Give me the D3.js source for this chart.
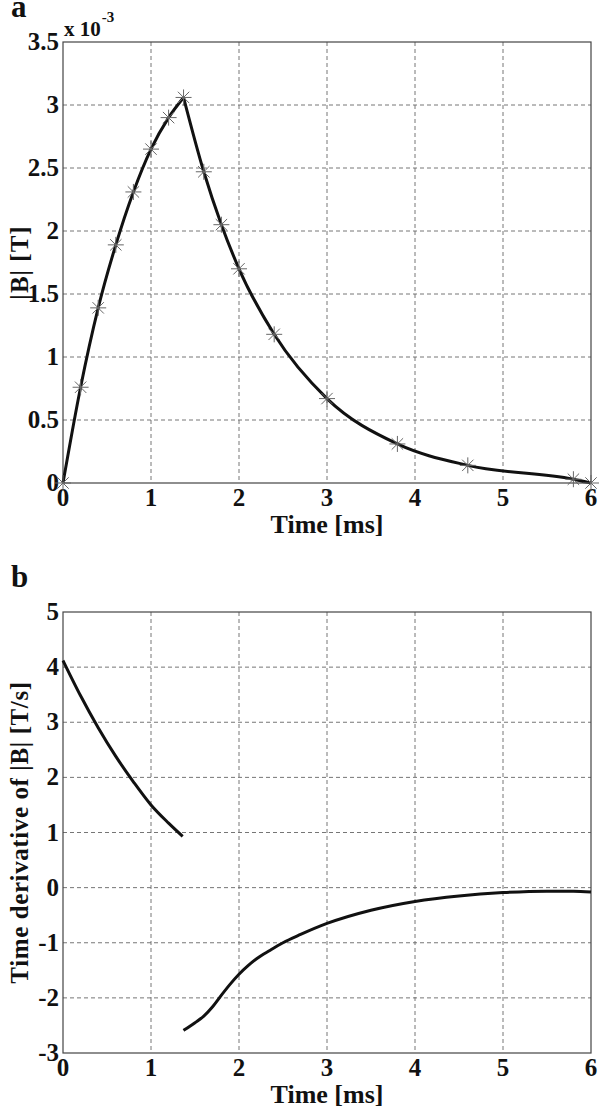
<!DOCTYPE html>
<html>
<head>
<meta charset="utf-8">
<script src="https://cdn.jsdelivr.net/npm/d3@7"></script>
<style>
  html, body { margin: 0; padding: 0; background: #fff; }
  svg { display: block; }
  text { font-family: "Liberation Serif", "DejaVu Serif", serif; font-weight: bold; fill: #111; }
</style>
</head>
<body>
<svg id="chart" width="600" height="1108"></svg>
<script>
// ---------- DATA ----------
// Panel a: |B| (x 10^-3 T) vs time (ms)
const timeA = [0, 0.2, 0.4, 0.6, 0.8, 1.0, 1.2, 1.37, 1.6, 1.8, 2.0, 2.4, 3.0, 3.8, 4.6, 5.8, 6.0];
const bValues = [0, 0.76, 1.39, 1.89, 2.31, 2.65, 2.90, 3.06, 2.47, 2.05, 1.70, 1.18, 0.67, 0.31, 0.14, 0.03, 0.0];
const peakIndex = 7;

// Panel b: time derivative of |B| (T/s) vs time (ms), two branches
const timeB1 = [0, 0.2, 0.4, 0.6, 0.8, 1.0, 1.2, 1.36];
const dbValues1 = [4.12, 3.48, 2.90, 2.38, 1.92, 1.50, 1.17, 0.93];
const timeB2 = [1.37, 1.5, 1.6, 1.7, 1.8, 1.9, 2.0, 2.1, 2.2, 2.35, 2.5, 2.7, 3.0, 3.5, 4.0, 4.5, 5.0, 5.5, 5.8, 6.0];
const dbValues2 = [-2.59, -2.45, -2.33, -2.16, -1.95, -1.75, -1.57, -1.42, -1.29, -1.14, -1.0, -0.85, -0.65, -0.41, -0.25, -0.15, -0.09, -0.065, -0.065, -0.08];

// Tick labels
const xTicks = [0, 1, 2, 3, 4, 5, 6];
const yTicksA = [0, 0.5, 1, 1.5, 2, 2.5, 3, 3.5];
const yTicksB = [-3, -2, -1, 0, 1, 2, 3, 4, 5];

// ---------- DRAW ----------
const svg = d3.select("#chart");
svg.append("rect").attr("width", 600).attr("height", 1108).attr("fill", "#fff");

const left = 63, right = 591;
const FONT = 25;

function panel(cfg) {
  const x = d3.scaleLinear().domain([0, 6]).range([left, right]);
  const y = d3.scaleLinear().domain(cfg.yDomain).range([cfg.bottom, cfg.top]);
  const g = svg.append("g");

  // grid
  g.selectAll(".vg").data(xTicks.slice(1, -1)).enter().append("line")
    .attr("x1", d => x(d)).attr("x2", d => x(d))
    .attr("y1", cfg.top).attr("y2", cfg.bottom)
    .attr("stroke", "#666").attr("stroke-width", 0.9).attr("stroke-dasharray", "4,3");
  g.selectAll(".hg").data(cfg.yTicks.slice(1, -1)).enter().append("line")
    .attr("x1", left).attr("x2", right)
    .attr("y1", d => y(d)).attr("y2", d => y(d))
    .attr("stroke", "#666").attr("stroke-width", 0.9).attr("stroke-dasharray", "4,3");

  // box
  g.append("rect").attr("x", left).attr("y", cfg.top)
    .attr("width", right - left).attr("height", cfg.bottom - cfg.top)
    .attr("fill", "none").attr("stroke", "#444").attr("stroke-width", 1.2);

  // x tick labels
  g.selectAll(".xt").data(xTicks).enter().append("text")
    .attr("x", d => x(d)).attr("y", cfg.bottom + 23)
    .attr("text-anchor", "middle").attr("font-size", FONT)
    .text(d => d);
  // y tick labels
  g.selectAll(".yt").data(cfg.yTicks).enter().append("text")
    .attr("x", left - 4).attr("y", d => y(d) + 8)
    .attr("text-anchor", "end").attr("font-size", FONT)
    .text(d => d);

  // x label
  g.append("text").attr("x", (left + right) / 2).attr("y", cfg.bottom + 50)
    .attr("text-anchor", "middle").attr("font-size", FONT + 1).text("Time [ms]");
  // y label
  g.append("text")
    .attr("transform", `translate(28,${(cfg.top + cfg.bottom) / 2}) rotate(-90)`)
    .attr("text-anchor", "middle").attr("font-size", FONT)
    .attr("letter-spacing", cfg.ls).text(cfg.yLabel);
  // panel letter
  g.append("text").attr("x", 11).attr("y", cfg.top - 25)
    .attr("font-size", 31).text(cfg.letter);

  return { x, y, g };
}

// Panel a
const pa = panel({ top: 42, bottom: 483, yDomain: [0, 3.5], yTicks: yTicksA, yLabel: "|B| [T]", letter: "a", ls: 1 });
const exp = pa.g.append("text").attr("x", 64).attr("y", 36).attr("font-size", 21);
exp.append("tspan").text("x 10");
exp.append("tspan").attr("font-size", 15).attr("dy", -14).attr("dx", 1).text("-3");

const ptsA = timeA.map((t, i) => [t, bValues[i]]);
const lineA = d3.line().x(d => pa.x(d[0])).y(d => pa.y(d[1])).curve(d3.curveMonotoneX);
pa.g.append("path").attr("d", lineA(ptsA.slice(0, peakIndex + 1)))
  .attr("fill", "none").attr("stroke", "#111").attr("stroke-width", 3).attr("stroke-linejoin", "round");
pa.g.append("path").attr("d", lineA(ptsA.slice(peakIndex)))
  .attr("fill", "none").attr("stroke", "#111").attr("stroke-width", 3).attr("stroke-linejoin", "round");

// asterisk markers
const r = 8, rd = 5.7;
const star = `M0,${-r}L0,${r}M${-r},0L${r},0M${-rd},${-rd}L${rd},${rd}M${-rd},${rd}L${rd},${-rd}`;
pa.g.selectAll(".mk").data(ptsA).enter().append("path")
  .attr("transform", d => `translate(${pa.x(d[0])},${pa.y(d[1])})`)
  .attr("d", star).attr("fill", "none").attr("stroke", "#666").attr("stroke-width", 1);

// Panel b
const pb = panel({ top: 612, bottom: 1053, yDomain: [-3, 5], yTicks: yTicksB, yLabel: "Time derivative of |B| [T/s]", letter: "b", ls: 0.6 });
const lineB = d3.line().x(d => pb.x(d[0])).y(d => pb.y(d[1])).curve(d3.curveMonotoneX);
pb.g.append("path").attr("d", lineB(timeB1.map((t, i) => [t, dbValues1[i]])))
  .attr("fill", "none").attr("stroke", "#111").attr("stroke-width", 3);
pb.g.append("path").attr("d", lineB(timeB2.map((t, i) => [t, dbValues2[i]])))
  .attr("fill", "none").attr("stroke", "#111").attr("stroke-width", 3);
</script>
</body>
</html>
